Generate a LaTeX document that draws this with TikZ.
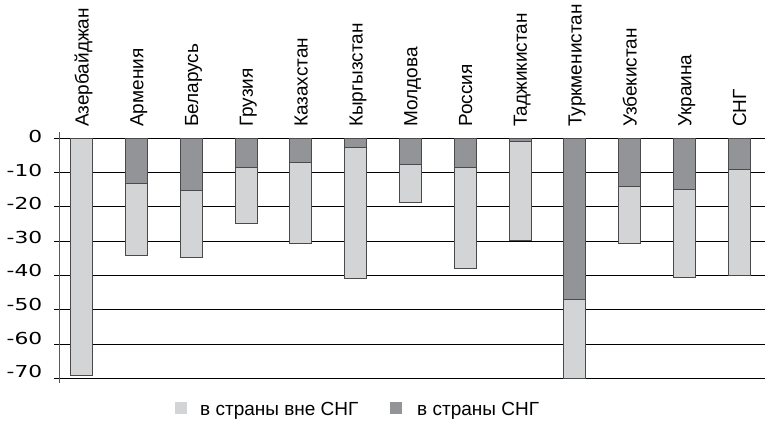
\documentclass[tikz,border=0pt]{standalone}
\usepackage{fontspec}
\setmainfont{Liberation Sans}
\newfontfamily\tickfont{DejaVu Sans}
\definecolor{lightbar}{HTML}{D3D4D6}
\definecolor{darkbar}{HTML}{939497}
\definecolor{barline}{HTML}{4A4A4A}
\begin{document}
\begin{tikzpicture}[x=1pt,y=-1pt,
  gridline/.style={line width=1.15pt,black},
  axisline/.style={line width=1pt,black!65},
  barlight/.style={fill=lightbar,draw=barline,line width=0.8pt},
  bardark/.style={fill=darkbar,draw=barline,line width=0.8pt},
  toplabel/.style={font=\fontsize{19}{21}\selectfont,rotate=90,anchor=base west,inner sep=0pt},
  ticklabel/.style={font=\tickfont\fontsize{16.5}{18}\selectfont,anchor=base east,inner sep=0pt},
  legtext/.style={font=\fontsize{19}{21}\selectfont,anchor=base west,inner sep=0pt},
  legbox/.style={minimum size=12pt,inner sep=0pt,anchor=center}]
\useasboundingbox (0,0) rectangle (765,422);
% grid lines
\foreach \k in {0,...,7}{
  \draw[gridline] (54,{138.3+34.3*\k}) coordinate (gl\k) -- (765,{138.3+34.3*\k}) coordinate (gr\k);
  \pgfmathtruncatemacro{\v}{-10*\k}
  \node[ticklabel] (t\k) at (42.5,{142.5+33.6*\k}) {\scalebox{1.32}[1]{\ifnum\k=0 0\else\v\fi}};
}
\coordinate (axtop) at (59,132);
\coordinate (axbot) at (59,383);
\draw[axisline] (axtop) -- (axbot);
% bars
\foreach \i/\name/\d/\t in {0/Азербайджан/0/69,1/Армения/13.1/34.1,2/Беларусь/15.2/34.7,3/Грузия/8.5/24.8,4/Казахстан/7/30.6,5/Кыргызстан/2.6/40.8,6/Молдова/7.6/18.7,7/Россия/8.5/37.9,8/Таджикистан/0.9/29.7,9/Туркменистан/47/70,10/Узбекистан/14/30.6,11/Украина/14.9/40.5,12/СНГ/9.2/40}{
  \pgfmathsetmacro{\cx}{81.5+54.8*\i}
  \pgfmathsetmacro{\yd}{138.3+3.43*\d}
  \pgfmathsetmacro{\yt}{138.3+3.43*\t}
  \draw[barlight] ({\cx-11},\yd) rectangle ({\cx+11},\yt);
  \ifdim\d pt>0pt
    \draw[bardark] ({\cx-11},138.3) rectangle ({\cx+11},\yd);
  \fi
  \node[toplabel] (lbl\i) at ({\cx+7},127) {\name};
}
% legend
\node[legbox,fill=lightbar] (lb1) at (181,408) {};
\node[legtext] (lt1) at (200,415) {в страны вне СНГ};
\node[legbox,fill=darkbar] (lb2) at (396,408) {};
\node[legtext] (lt2) at (417,415) {в страны СНГ};
\end{tikzpicture}
\end{document}
